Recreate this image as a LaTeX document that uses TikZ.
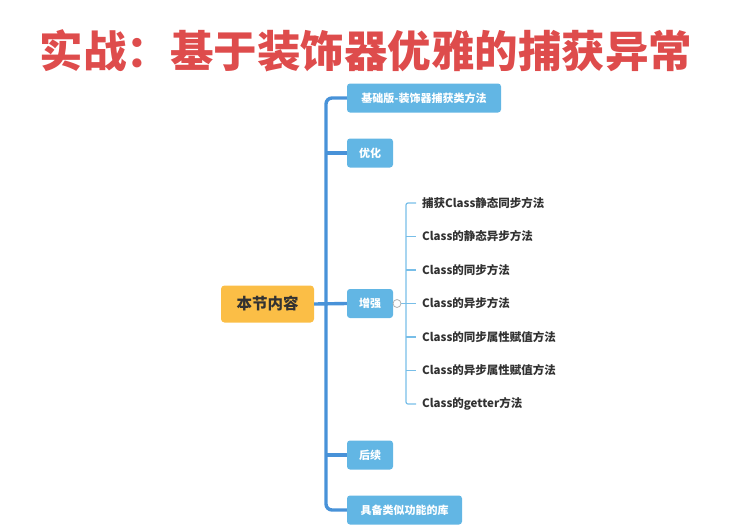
\documentclass[tikz,border=0pt]{standalone}
\usepackage{fontspec}
\setmainfont{Noto Sans CJK SC}
\definecolor{titlered}{RGB}{222,76,76}
\definecolor{trunkblue}{RGB}{72,146,216}
\definecolor{subblue}{RGB}{120,190,232}
\definecolor{boxblue}{RGB}{98,182,228}
\definecolor{rootorange}{RGB}{251,190,70}
\definecolor{childtext}{RGB}{50,50,50}
\begin{document}
\begin{tikzpicture}[x=1pt,y=-1pt,
  mainbox/.style={fill=boxblue,rounded corners=3pt,minimum height=29pt,inner sep=0pt,text=white,font=\fontsize{11}{13}\selectfont\bfseries},
  rootbox/.style={fill=rootorange,rounded corners=3.5pt,minimum width=93pt,minimum height=37pt,inner sep=0pt,text=childtext,font=\fontsize{15.5}{18}\selectfont\bfseries},
  childlab/.style={anchor=west,inner sep=0pt,text=childtext,font=\fontsize{11.5}{14}\selectfont\bfseries},
  trunk/.style={draw=trunkblue,line width=3.4pt},
  sub/.style={draw=subblue,line width=1.2pt}]
\useasboundingbox (0,0) rectangle (741,531);
\node[font=\fontsize{43.5}{50}\selectfont\bfseries,text=titlered] (title) at (366,51) {实战：基于装饰器优雅的捕获异常};
\node[rootbox] (root) at (267.5,304) {本节内容};
\node[mainbox,minimum width=154pt] (b1) at (424,98) {基础版-装饰器捕获类方法};
\node[mainbox,minimum width=46pt] (b2) at (370,153) {优化};
\node[mainbox,minimum width=46pt] (b3) at (370,303.5) {增强};
\node[mainbox,minimum width=46pt] (b4) at (370,455) {后续};
\node[mainbox,minimum width=115pt] (b5) at (404.5,510) {具备类似功能的库};
\coordinate (tt) at (326,98);
\coordinate (tb) at (326,510);
\draw[trunk,rounded corners=6pt] (b1.west) -- (tt) -- (tb) -- (b5.west);
\draw[trunk] (root.east) -- (b3.west);
\draw[trunk] (326,153) -- (b2.west);
\draw[trunk] (326,455) -- (b4.west);
\node[childlab] (c1) at (422,203) {捕获Class静态同步方法};
\node[childlab] (c2) at (422,236.5) {Class的静态异步方法};
\node[childlab] (c3) at (422,270) {Class的同步方法};
\node[childlab] (c4) at (422,303.5) {Class的异步方法};
\node[childlab] (c5) at (422,337) {Class的同步属性赋值方法};
\node[childlab] (c6) at (422,370.5) {Class的异步属性赋值方法};
\node[childlab] (c7) at (422,404) {Class的getter方法};
\coordinate (st) at (406,203);
\coordinate (sb) at (406,404);
\draw[sub] (b3.east) -- (c4.west -| st);
\node[circle,draw=black!30,fill=white,line width=0.8pt,minimum size=8pt,inner sep=0pt] (knob) at (397,303.5) {};
\draw[sub,rounded corners=2pt] ([xshift=-6pt]c1.west) -- (st) -- (sb) -- ([xshift=-6pt]c7.west);
\foreach \c in {c2,c3,c4,c5,c6}{\draw[sub] (\c.west -| st) -- ([xshift=-6pt]\c.west);}
\end{tikzpicture}
\end{document}
